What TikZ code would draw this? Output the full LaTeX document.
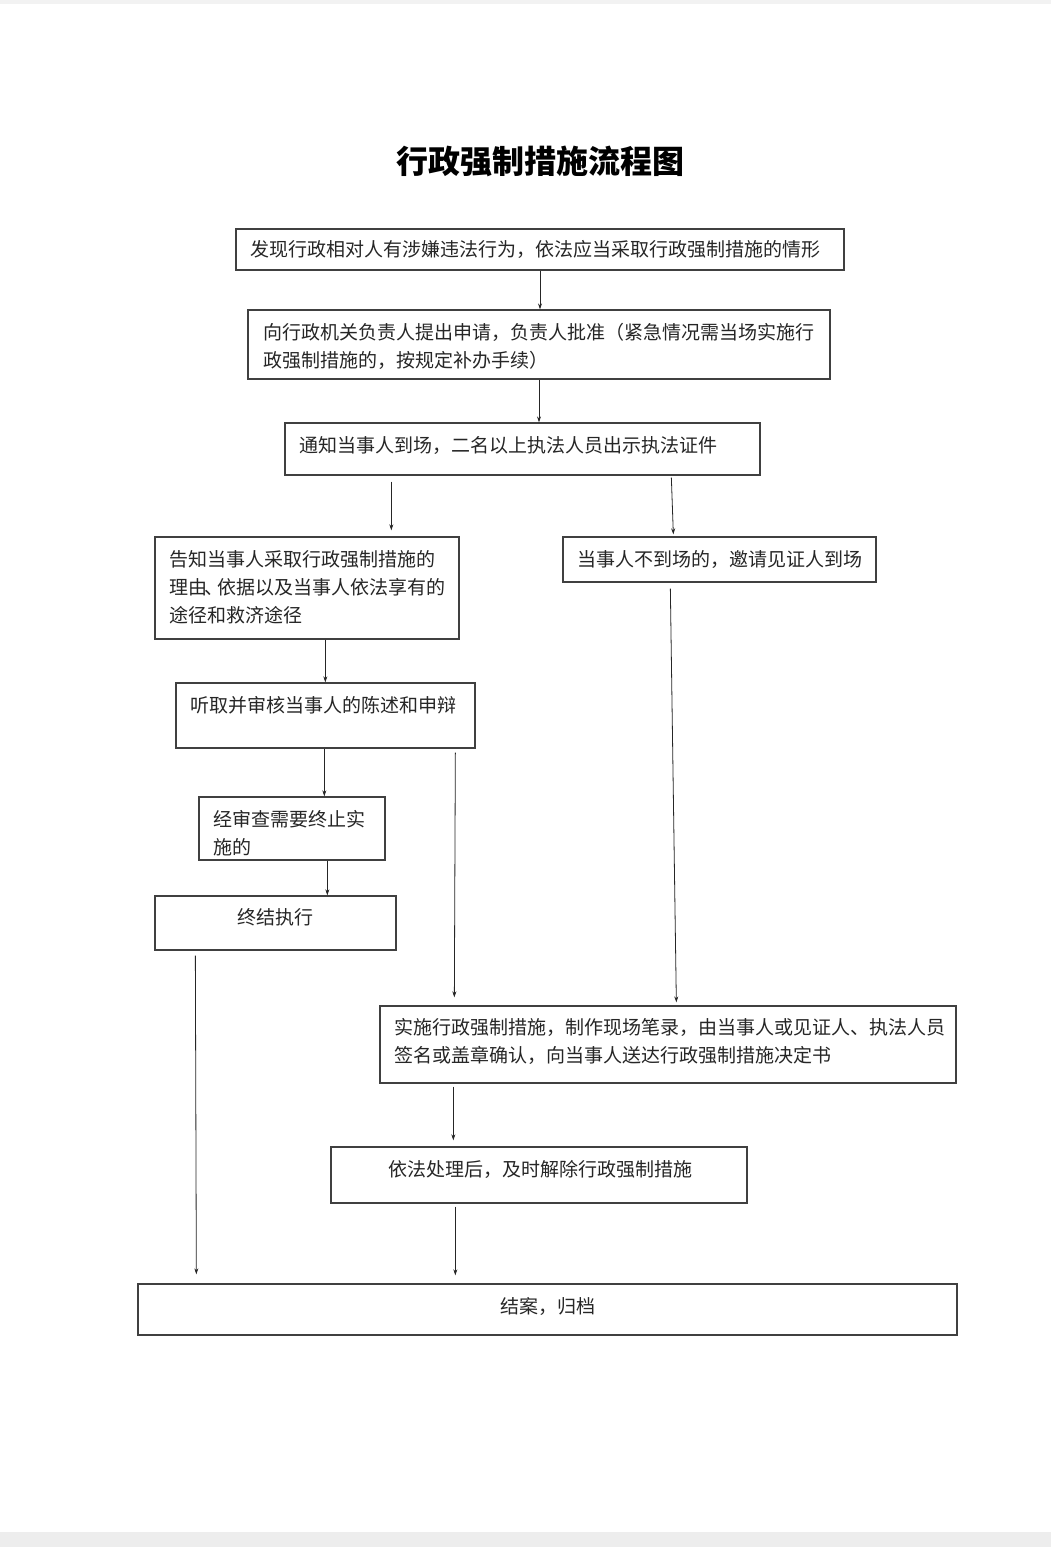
\documentclass[tikz,border=0pt]{standalone}
\usepackage{fontspec}
\newfontfamily\cjk{Noto Sans CJK SC}
\usetikzlibrary{calc,arrows.meta}
\tikzset{
  box/.style={draw=black!75, line width=1.3pt, inner sep=0pt, minimum width=#1},
  bh/.style={minimum height=#1},
  txt/.style={inner sep=0pt, anchor=north west, align=left, text=black!85,
    font=\cjk\fontsize{19}{28}\selectfont},
  ctxt/.style={inner sep=0pt, anchor=north, align=center, text=black!85,
    font=\cjk\fontsize{19}{28}\selectfont},
  arr/.style={-{Stealth[length=6pt,width=4pt]}, line width=0.8pt, draw=black!85}
}
\begin{document}
\begin{tikzpicture}[x=1pt,y=-1pt]
\useasboundingbox (0,0) rectangle (1051,1547);
\fill[white] (0,0) rectangle (1051,1547);
\fill[black!5] (0,0) rectangle (1051,4);
\fill[black!7] (0,1532) rectangle (1051,1547);

\node[inner sep=0pt, font=\cjk\bfseries\fontsize{32}{36}\selectfont] (title) at (540,161) {行政强制措施流程图};

\node[box=608, bh=41] (A) at (540,249.5) {};
\node[box=582, bh=69] (B) at (539,344.5) {};
\node[box=475, bh=52] (C) at (522.5,449) {};
\node[box=304, bh=102] (D) at (307,588) {};
\node[box=313, bh=45] (E) at (719.5,559.5) {};
\node[box=299, bh=65] (F) at (325.5,715.5) {};
\node[box=186, bh=63] (G) at (292,828.5) {};
\node[box=241, bh=54] (H) at (275.5,923) {};
\node[box=576, bh=77] (I) at (668,1044.5) {};
\node[box=416, bh=56] (J) at (539,1175) {};
\node[box=819, bh=51] (K) at (547.5,1309.5) {};

\node[txt] (At) at (250,240) {发现行政相对人有涉嫌违法行为，依法应当采取行政强制措施的情形};
\node[txt] (Bt) at (263,323) {向行政机关负责人提出申请，负责人批准（紧急情况需当场实施行\\政强制措施的，按规定补办手续）};
\node[txt] (Ct) at (299,436) {通知当事人到场，二名以上执法人员出示执法证件};
\node[txt] (Dt) at (169,550) {告知当事人采取行政强制措施的\\理由\kern-3pt、\kern-6pt 依据以及当事人依法享有的\\途径和救济途径};
\node[txt] (Et) at (577,550) {当事人不到场的，邀请见证人到场};
\node[txt] (Ft) at (190,696) {听取并审核当事人的陈述和申辩};
\node[txt] (Gt) at (213,810) {经审查需要终止实\\施的};
\node[ctxt] (Ht) at (275,908) {终结执行};
\node[txt] (It) at (394,1018) {实施行政强制措施，制作现场笔录，由当事人或见证人、执法人员\\签名或盖章确认，向当事人送达行政强制措施决定书};
\node[txt] (Jt) at (388,1160) {依法处理后，及时解除行政强制措施};
\node[ctxt] (Kt) at (548,1297) {结案，归档};

\draw[arr] (A.south) -- (A.south |- B.north);
\draw[arr] (B.south) -- (B.south |- C.north);
\draw[arr] ($(C.south west)+(107,6)$) -- ($(D.north west)+(237,-6)$);
\draw[arr] ($(C.south west)+(387,2)$) -- ($(E.north west)+(111,-2)$);
\draw[arr] ($(D.south west)+(171,0)$) -- ($(F.north west)+(150,0)$);
\draw[arr] ($(F.south west)+(149,0)$) -- ($(G.north west)+(126,0)$);
\draw[arr] ($(G.south west)+(129,0)$) -- ($(H.north west)+(173,0)$);
\draw[arr] ($(F.south west)+(280,4)$) -- ($(I.north west)+(75,-8)$);
\draw[arr] ($(E.south west)+(108,6)$) -- ($(I.north west)+(297,-3)$);
\draw[arr] ($(H.south west)+(41,5)$) -- ($(K.north west)+(59,-9)$);
\draw[arr] ($(I.south west)+(74,3)$) -- ($(J.north west)+(123,-6)$);
\draw[arr] ($(J.south west)+(125,3)$) -- ($(K.north west)+(318,-8)$);
\end{tikzpicture}
\end{document}
